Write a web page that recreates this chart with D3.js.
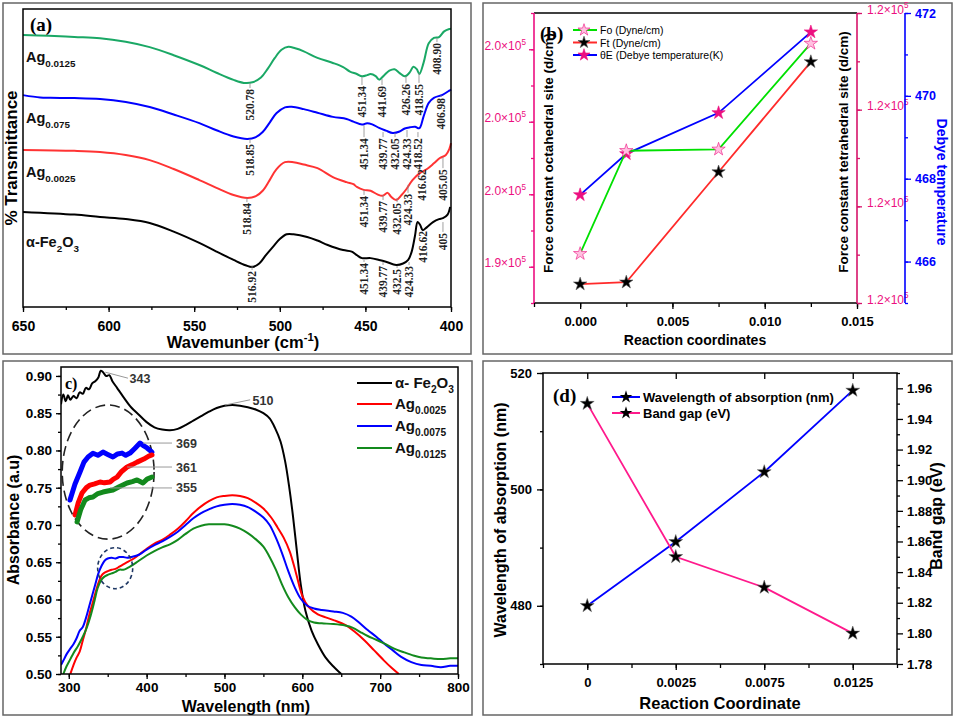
<!DOCTYPE html>
<html>
<head>
<meta charset="utf-8">
<script src="https://d3js.org/d3.v7.min.js"></script>
<style>
  body { margin: 0; background: #fff; }
  svg text { font-family: "Liberation Sans", Arial, sans-serif; }
</style>
</head>
<body>
<svg id="fig" width="955" height="718"></svg>
<script>
// ---------- data: panel (a) FTIR, [wavenumber, %T] ----------
const ftirAg0125 = [[650,91.3],[635,91],[620,90.6],[605,90.2],[590,89],[576,87.2],[562,84.5],[547,81.2],[537,78.6],[527,76.2],[521,75.2],[516,75.4],[511,77],[507,80],[503,83.5],[499,86.3],[495,87.3],[491,86.8],[486,85.8],[478,83.6],[469,81.9],[463,80.5],[459,79],[455,78.2],[452,77.4],[449,77.8],[447,78.2],[444,77.5],[442,76.3],[439,77.8],[436,79.3],[433,79.8],[430,78.5],[427,77.4],[424,78.8],[422,80.6],[420,79.8],[418.5,78.2],[416,82],[413,88.5],[410,90.3],[407,90.6],[404,92.5],[401,93.3],[400,93.4]];
const ftirAg075 = [[650,71.1],[640,70.3],[634,70.2],[620,70.1],[605,69.8],[590,68.8],[576,67.1],[562,64.6],[547,61.7],[537,59.3],[527,57.2],[519,56.4],[514,57],[510,58.7],[506,61.8],[502,65],[497,67],[493,67.2],[486,66.4],[478,65.2],[469,63.8],[461,63.1],[457,62.2],[452,61.2],[449,61.7],[446,61.3],[442,60.1],[438,59.2],[434,58.4],[430,58.9],[427,59.9],[424,60.3],[421,60.5],[418.5,60],[416,64],[413,68.5],[410,70.2],[405,71.2],[401,72.6],[400,73]];
const ftirAg0025 = [[650,52.7],[620,52.4],[605,52],[590,51],[576,49.3],[562,46.3],[547,42.6],[537,40],[527,37.6],[519,36.6],[514,37.2],[510,39],[506,42.5],[502,46.2],[497,48.6],[492,48.6],[486,47.8],[478,46.6],[469,43.6],[461,41.9],[457,41.2],[455,40.3],[451,39.3],[447,39],[443,37.8],[440,37.3],[437,38.3],[435,37],[432,35.9],[429,37.5],[426,39.6],[422.5,42.6],[418,45],[414,46.3],[410,48.2],[406.5,50],[403,51],[401,53],[400,55]];
const ftirFe2O3 = [[650,31.9],[620,31],[605,30.2],[590,29.5],[576,28.2],[562,25.3],[547,21.5],[537,18.6],[527,15.8],[520,14],[516,13.4],[512,14.6],[508,17.5],[504,20.2],[500,22.8],[496,24.4],[492,24.4],[484,23.5],[478,22.3],[472,20.8],[463,19.1],[458,18.6],[455,17.4],[452,16.4],[447,16.4],[442,15.8],[438,15.2],[432,14.1],[428,14.6],[425,15.8],[423,18.5],[421,24],[419.5,28.5],[418,27.5],[416.5,25.8],[414,26.8],[410.5,28.5],[407,29.5],[404.7,29.8],[402,31],[400.5,33.6]];
const ftirNames = ["Ag0.0125", "Ag0.075", "Ag0.0025", "α-Fe2O3"];
// peak labels: [text, wavenumber, text-top %T, curve %T]
const peaksAg0125 = [["520.78",517.4,73.5,75.2],["451.34",452,74.5,77.2],["441.69",440.3,74.5,76.5],["426.26",426.3,75.2,77.5],["418.55",418.7,75.2,78.5],["408.90",408.2,88.9,90.3]];
const peaksAg075 = [["518.85",517.4,55,56.4],["451.34",450.8,57,61],["439.77",439.7,57,58.7],["432.05",432.7,57,58.4],["424.33",425.7,57,59.4],["418.52",419.3,57,58.7],["406.98",405.8,70.5,71.1]];
const peaksAg0025 = [["518.84",519.2,35.2,36.6],["451.34",450.8,37.6,39.3],["439.77",439.7,35.9,37.6],["432.05",431.5,35.2,36.6],["424.33",425.1,38.3,41],["416.62",417,46.6,46.6],["405.05",404.7,46.6,50.3]];
const peaksFe2O3 = [["516.92",516.2,12.4,14.1],["451.34",450.8,15.1,15.8],["439.77",439.7,14.1,15.1],["432.5",431.5,13.1,13.8],["424.33",424.5,14.1,15.1],["416.62",416.4,25.8,25.8],["405",404.7,25.2,28.5]];
const ftirTicks = [650, 600, 550, 500, 450, 400];

// ---------- data: panel (b) force constants ----------
const coordB = [0, 0.0025, 0.0075, 0.0125];
const forceFo = [1.909, 1.980, 1.981, 2.054];       // x10^5, left axis
const forceFt = [1.1739, 1.1743, 1.1971, 1.2199];   // x10^5, right axis
const debyeT = [467.61, 468.60, 469.59, 471.54];    // K
const bXTicks = [0, 0.005, 0.010, 0.015];
const bLeftTicks = [1.90, 1.95, 2.00, 2.05];
const bLeftLabels = ["1.9", "2.0", "2.0", "2.0"];
const bRightTicks = [1.17, 1.19, 1.21, 1.23];
const bRightLabels = ["1.2", "1.2", "1.2", "1.2"];
const bDebyeTicks = [466, 468, 470, 472];

// ---------- data: panel (c) UV-vis absorbance, [nm, abs] ----------
const uvFe2O3 = [[290,0.862],[293,0.875],[296,0.866],[299,0.874],[302,0.868],[306,0.873],[310,0.870],[314,0.878],[318,0.876],[322,0.884],[326,0.882],[330,0.890],[334,0.893],[338,0.898],[341,0.907],[344,0.905],[348,0.900],[352,0.901],[356,0.893],[362,0.884],[370,0.872],[380,0.858],[390,0.848],[400,0.838],[410,0.831],[420,0.828],[430,0.827],[440,0.829],[450,0.834],[460,0.840],[470,0.846],[480,0.852],[490,0.857],[500,0.860],[510,0.861],[520,0.860],[530,0.858],[540,0.855],[550,0.850],[558,0.843],[565,0.830],[572,0.812],[578,0.785],[583,0.752],[588,0.712],[593,0.665],[598,0.620],[604,0.585],[612,0.558],[620,0.540],[630,0.522],[640,0.510],[650,0.500]];
const uvAg0025 = [[302,0.500],[306,0.512],[310,0.522],[314,0.530],[318,0.545],[322,0.560],[326,0.578],[330,0.593],[334,0.608],[338,0.622],[342,0.632],[346,0.636],[350,0.638],[355,0.640],[360,0.641],[365,0.644],[370,0.647],[375,0.650],[380,0.653],[385,0.656],[390,0.660],[395,0.664],[400,0.668],[410,0.675],[420,0.680],[430,0.687],[440,0.695],[450,0.705],[460,0.716],[470,0.725],[480,0.732],[490,0.737],[500,0.739],[510,0.740],[520,0.739],[530,0.736],[540,0.730],[550,0.722],[560,0.710],[568,0.697],[576,0.683],[584,0.664],[592,0.635],[600,0.605],[608,0.590],[620,0.580],[630,0.576],[641,0.572],[655,0.566],[667,0.557],[680,0.545],[692,0.532],[705,0.518],[715,0.508],[724,0.500]];
const uvAg0075 = [[290,0.512],[294,0.520],[298,0.528],[302,0.534],[306,0.540],[310,0.548],[314,0.558],[318,0.563],[322,0.575],[326,0.590],[330,0.605],[334,0.620],[338,0.635],[342,0.645],[346,0.652],[350,0.655],[355,0.656],[360,0.655],[365,0.657],[370,0.657],[375,0.656],[380,0.657],[390,0.660],[400,0.667],[410,0.673],[420,0.678],[430,0.684],[440,0.691],[450,0.700],[460,0.709],[470,0.716],[480,0.721],[490,0.725],[500,0.727],[510,0.728],[520,0.727],[530,0.724],[540,0.718],[550,0.710],[558,0.700],[566,0.683],[574,0.662],[582,0.638],[590,0.617],[598,0.601],[606,0.592],[615,0.588],[625,0.586],[640,0.584],[652,0.582],[663,0.577],[674,0.568],[684,0.559],[695,0.550],[705,0.541],[716,0.532],[727,0.523],[740,0.516],[753,0.512],[765,0.511],[778,0.509],[790,0.511],[800,0.511]];
const uvAg0125 = [[293,0.500],[297,0.510],[302,0.520],[306,0.528],[312,0.538],[318,0.550],[323,0.562],[328,0.578],[333,0.598],[337,0.615],[341,0.625],[345,0.630],[350,0.633],[355,0.635],[360,0.637],[365,0.640],[370,0.640],[375,0.642],[380,0.645],[390,0.652],[400,0.659],[410,0.665],[420,0.670],[430,0.674],[440,0.680],[450,0.688],[460,0.695],[470,0.699],[480,0.701],[490,0.701],[500,0.701],[510,0.699],[520,0.695],[530,0.689],[540,0.681],[550,0.671],[558,0.657],[566,0.640],[574,0.620],[582,0.603],[590,0.590],[598,0.580],[606,0.573],[615,0.569],[625,0.568],[640,0.567],[655,0.565],[665,0.562],[675,0.556],[684,0.551],[695,0.546],[705,0.541],[718,0.534],[731,0.529],[742,0.525],[753,0.522],[765,0.521],[778,0.520],[790,0.521],[800,0.521]];
// magnified inset (zoom of 335-385 nm)
const insetAg0075 = [[335,0.6297],[338,0.6390],[341.1,0.6462],[343.5,0.6520],[346,0.6550],[349,0.6572],[352,0.6560],[355.1,0.6579],[358,0.6565],[361.2,0.6550],[364,0.6568],[366.7,0.6573],[369,0.6560],[371.6,0.6573],[374.5,0.6600],[377.7,0.6632],[380,0.6615],[382,0.6603],[385,0.6579]];
const insetAg0025 = [[338.1,0.6209],[340,0.6280],[342.3,0.6338],[345,0.6370],[347.2,0.6385],[350,0.6392],[353.3,0.6403],[356,0.6398],[359.4,0.6403],[361.5,0.6420],[363.7,0.6432],[366.5,0.6465],[369.8,0.6491],[373,0.6505],[375.9,0.6520],[380,0.6538],[383,0.6555],[385,0.6562]];
const insetAg0125 = [[339.3,0.6168],[341.5,0.6240],[344.2,0.6297],[346.5,0.6310],[349,0.6315],[352,0.6335],[355.1,0.6344],[358,0.6350],[361.2,0.6356],[365,0.6375],[369.8,0.6397],[373,0.6405],[375.9,0.6415],[379.5,0.6397],[382,0.6420],[385,0.6432]];
const insetLabels = [["369",379.5,0.6632],["361",369.8,0.6491],["355",359.4,0.6368]];
const uvNames = ["α- Fe2O3", "Ag0.0025", "Ag0.0075", "Ag0.0125"];
const uvXTicks = [300, 400, 500, 600, 700, 800];
const uvYTicks = [0.50, 0.55, 0.60, 0.65, 0.70, 0.75, 0.80, 0.85, 0.90];

// ---------- data: panel (d) ----------
const coordD = ["0", "0.0025", "0.0075", "0.0125"];
const absWavelength = [480, 491, 503, 517];
const bandGap = [1.95, 1.85, 1.83, 1.80];
const dLeftTicks = [480, 500, 520];
const dRightTicks = [1.78, 1.80, 1.82, 1.84, 1.86, 1.88, 1.90, 1.92, 1.94, 1.96];

// ---------- helpers ----------
const svg = d3.select("#fig");
const SANS = "'Liberation Sans', Arial, sans-serif";
const SERIF = "'Liberation Serif', 'Times New Roman', serif";
const PINK = "#ec0f80";
const star = s => d3.symbol(d3.symbolStar).size(s)();

// text with sub/superscripts, parts: [string, 0 normal | 1 sub | 2 sup]
function rich(sel, parts, size) {
  let shift = 0;
  parts.forEach(([s, k]) => {
    const target = k === 1 ? size * 0.32 : k === 2 ? -size * 0.42 : 0;
    sel.append("tspan").attr("dy", target - shift)
      .style("font-size", (k ? size * 0.68 : size) + "px").text(s);
    shift = target;
  });
}
// "Ag0.0125" -> Ag + sub, "α-Fe2O3" -> with sub digits
function nameParts(n) {
  if (n.startsWith("Ag")) return [["Ag", 0], [n.slice(2), 1]];
  const pre = n.replace("Fe2O3", "");
  return [[pre + "Fe", 0], ["2", 1], ["O", 0], ["3", 1]];
}
function styleAxis(g, color, size, weight) {
  g.select(".domain").remove();
  g.selectAll(".tick line").attr("stroke", color).attr("stroke-width", 1.3);
  g.selectAll(".tick text").attr("fill", color).style("font-size", size + "px")
    .style("font-weight", weight).style("font-family", SANS);
}
function range(a, b, s) { const r = []; for (let v = a; v <= b + s * 1e-6; v += s) r.push(+v.toFixed(6)); return r; }

// outer panel borders
[[3, 3, 468, 351], [483, 3, 469, 351], [3, 361, 469, 354], [483, 361, 469, 354]].forEach(b =>
  svg.append("rect").attr("x", b[0]).attr("y", b[1]).attr("width", b[2]).attr("height", b[3])
    .attr("fill", "none").attr("stroke", "#666").attr("stroke-width", 1.5));

// ================= panel (a) =================
{
  const g = svg.append("g");
  const x = d3.scaleLinear().domain([650, 400]).range([23, 451]);
  const y = d3.scaleLinear().domain([0, 100]).range([307, 9]);
  const colors = ["#1aa865", "#0000ff", "#ff3333", "#000000"];
  const series = [ftirAg0125, ftirAg075, ftirAg0025, ftirFe2O3];
  const peaks = [peaksAg0125, peaksAg075, peaksAg0025, peaksFe2O3];
  const line = d3.line().x(d => x(d[0])).y(d => y(d[1])).curve(d3.curveCatmullRom);

  g.append("g").attr("transform", "translate(0,307)")
    .call(d3.axisBottom(x).tickValues(range(400, 650, 25)).tickSize(3).tickFormat(""))
    .call(a => styleAxis(a, "#000", 14, "bold"));
  g.append("g").attr("transform", "translate(0,307)")
    .call(d3.axisBottom(x).tickValues(ftirTicks).tickSize(5).tickPadding(9).tickFormat(d3.format("d")))
    .call(a => styleAxis(a, "#000", 14, "bold"));

  series.forEach((s, i) => g.append("path").datum(s).attr("d", line)
    .attr("fill", "none").attr("stroke", colors[i]).attr("stroke-width", 2));

  peaks.forEach(list => list.forEach(p => {
    g.append("line").attr("x1", x(p[1])).attr("x2", x(p[1]))
      .attr("y1", y(p[3])).attr("y2", y(p[2])).attr("stroke", "#888").attr("stroke-width", 0.8);
    g.append("text").attr("transform", `translate(${x(p[1])},${y(p[2]) + 1}) rotate(-90)`)
      .attr("text-anchor", "end").attr("dominant-baseline", "central")
      .style("font-family", SERIF).style("font-weight", "bold").style("font-size", "11.5px")
      .attr("fill", "#222").text(p[0]);
  }));

  g.append("rect").attr("x", 23).attr("y", 9).attr("width", 428).attr("height", 298)
    .attr("fill", "none").attr("stroke", "#000").attr("stroke-width", 1.5);

  [62, 123, 177, 247].forEach((yy, i) => {
    const t = g.append("text").attr("x", 26).attr("y", yy).style("font-weight", "bold").attr("fill", "#111");
    rich(t, nameParts(ftirNames[i]), 14.5);
  });
  g.append("text").attr("x", 30).attr("y", 31).style("font-family", SERIF).style("font-weight", "bold")
    .style("font-size", "19px").text("(a)");
  g.append("text").attr("transform", "translate(17,158) rotate(-90)").attr("text-anchor", "middle")
    .style("font-weight", "bold").style("font-size", "17px").text("% Transmittance");
  const xt = g.append("text").attr("x", 243).attr("y", 348).attr("text-anchor", "middle")
    .style("font-weight", "bold");
  rich(xt, [["Wavemunber (cm", 0], ["-1", 2], [")", 0]], 16.5);
}

// ================= panel (b) =================
{
  const g = svg.append("g");
  const x = d3.scaleLinear().domain([-0.0025, 0.015]).range([534, 857]);
  const yL = d3.scaleLinear().domain([1.875, 2.075]).range([303, 13]);
  const yR = d3.scaleLinear().domain([1.17, 1.23]).range([303, 13]);
  const yB = d3.scaleLinear().domain([465, 472]).range([303, 13]);

  // x axis
  g.append("g").attr("transform", "translate(0,303)")
    .call(d3.axisBottom(x).tickValues(range(-0.0025, 0.015, 0.0025)).tickSize(4).tickFormat(""))
    .call(a => styleAxis(a, "#000", 13, "bold"));
  g.append("g").attr("transform", "translate(0,303)")
    .call(d3.axisBottom(x).tickValues(bXTicks).tickSize(6).tickPadding(8).tickFormat(d3.format(".3f")))
    .call(a => styleAxis(a, "#000", 13, "bold"));
  g.append("line").attr("x1", 534).attr("x2", 857).attr("y1", 303).attr("y2", 303).attr("stroke", "#000").attr("stroke-width", 1.5);
  g.append("line").attr("x1", 534).attr("x2", 857).attr("y1", 13).attr("y2", 13).attr("stroke", "#000").attr("stroke-width", 1.5);

  const sci = (labels) => function (d, i) {
    const t = d3.select(this); t.text(null);
    rich(t, [[labels[i] + "×10", 0], ["5", 2]], 12);
  };
  // left axis
  g.append("g").attr("transform", "translate(534,0)")
    .call(d3.axisLeft(yL).tickValues(range(1.875, 2.075, 0.025)).tickSize(3).tickFormat(""))
    .call(a => styleAxis(a, PINK, 12, "normal"));
  g.append("g").attr("transform", "translate(534,0)")
    .call(d3.axisLeft(yL).tickValues(bLeftTicks).tickSize(5).tickPadding(3))
    .call(a => styleAxis(a, PINK, 12, "normal"))
    .call(a => a.selectAll(".tick text").each(sci(bLeftLabels)));
  g.append("line").attr("x1", 534).attr("x2", 534).attr("y1", 13).attr("y2", 303).attr("stroke", PINK).attr("stroke-width", 1.6);
  // right axis (pink)
  g.append("g").attr("transform", "translate(857,0)")
    .call(d3.axisRight(yR).tickValues(range(1.17, 1.23, 0.01)).tickSize(3).tickFormat(""))
    .call(a => styleAxis(a, "#d6136a", 12, "normal"));
  g.append("g").attr("transform", "translate(857,0)")
    .call(d3.axisRight(yR).tickValues(bRightTicks).tickSize(5).tickPadding(5))
    .call(a => styleAxis(a, PINK, 12, "normal"))
    .call(a => a.selectAll(".tick line").attr("stroke", "#d6136a"))
    .call(a => a.selectAll(".tick text").each(sci(bRightLabels)));
  g.append("line").attr("x1", 857).attr("x2", 857).attr("y1", 13).attr("y2", 303).attr("stroke", "#d6136a").attr("stroke-width", 1.6);
  // right axis (blue)
  g.append("g").attr("transform", "translate(905,0)")
    .call(d3.axisRight(yB).tickValues(range(465, 472, 1)).tickSize(3).tickFormat(""))
    .call(a => styleAxis(a, "#0000ff", 12, "bold"));
  g.append("g").attr("transform", "translate(905,0)")
    .call(d3.axisRight(yB).tickValues(bDebyeTicks).tickSize(6).tickPadding(4).tickFormat(d3.format("d")))
    .call(a => styleAxis(a, "#0000ff", 12.5, "bold"));
  g.append("line").attr("x1", 905).attr("x2", 905).attr("y1", 13).attr("y2", 303).attr("stroke", "#0000ff").attr("stroke-width", 1.6);

  const mk = (ys, yScale) => coordB.map((c, i) => [x(c), yScale(ys[i])]);
  const lines = [
    { pts: mk(debyeT, yB), color: "#0000ff", fill: PINK, stroke: PINK },
    { pts: mk(forceFo, yL), color: "#00e000", fill: "#ffc0e0", stroke: PINK },
    { pts: mk(forceFt, yR), color: "#ff2a2a", fill: "#000", stroke: "#555" }
  ];
  lines.forEach(l => {
    g.append("path").attr("d", d3.line()(l.pts)).attr("fill", "none").attr("stroke", l.color).attr("stroke-width", 1.8);
    l.pts.forEach(p => g.append("path").attr("d", star(55)).attr("transform", `translate(${p[0]},${p[1]})`)
      .attr("fill", l.fill).attr("stroke", l.stroke).attr("stroke-width", 0.6));
  });

  // legend
  const leg = [["Fo (Dyne/cm)", "#00e000", "#ffc0e0", PINK], ["Ft (Dyne/cm)", "#ff2a2a", "#000", "#555"], ["θE (Debye temperature(K)", "#0000ff", PINK, PINK]];
  leg.forEach((l, i) => {
    const yy = 30 + i * 12.5;
    g.append("line").attr("x1", 573).attr("x2", 597).attr("y1", yy).attr("y2", yy).attr("stroke", l[1]).attr("stroke-width", 2);
    g.append("path").attr("d", star(45)).attr("transform", `translate(584,${yy})`).attr("fill", l[2]).attr("stroke", l[3]).attr("stroke-width", 0.6);
    g.append("text").attr("x", 600).attr("y", yy + 4).style("font-size", "10.5px").text(l[0]);
  });
  g.append("text").attr("x", 540).attr("y", 40).style("font-family", SERIF).style("font-weight", "bold").style("font-size", "19px").text("(b)");

  g.append("text").attr("transform", "translate(553,153) rotate(-90)").attr("text-anchor", "middle")
    .style("font-weight", "bold").style("font-size", "13.5px").text("Force constant octahedral site (d/cm)");
  g.append("text").attr("transform", "translate(848,152) rotate(-90)").attr("text-anchor", "middle")
    .style("font-weight", "bold").style("font-size", "13.5px").text("Force constant tetrahedral site (d/cm)");
  g.append("text").attr("transform", "translate(937,182) rotate(90)").attr("text-anchor", "middle")
    .style("font-weight", "bold").style("font-size", "14px").attr("fill", "#0000ff").text("Debye temperature");
  g.append("text").attr("x", 695).attr("y", 345).attr("text-anchor", "middle")
    .style("font-weight", "bold").style("font-size", "14px").text("Reaction coordinates");
}

// ================= panel (c) =================
{
  const g = svg.append("g");
  const x = d3.scaleLinear().domain([290, 800]).range([61, 458]);
  const y = d3.scaleLinear().domain([0.5, 0.912]).range([674, 367]);
  const ix = d3.scaleLinear().domain([335, 385]).range([70, 152]);
  const iy = d3.scaleLinear().domain([0.615, 0.665]).range([525, 440]);
  const colors = ["#000000", "#ff0000", "#0000ff", "#138a1d"];
  const series = [uvFe2O3, uvAg0025, uvAg0075, uvAg0125];

  g.append("defs").append("clipPath").attr("id", "clipC").append("rect")
    .attr("x", 61).attr("y", 367).attr("width", 397).attr("height", 307);

  g.append("g").attr("transform", "translate(0,674)")
    .call(d3.axisBottom(x).tickValues(range(300, 800, 50)).tickSize(3).tickFormat(""))
    .call(a => styleAxis(a, "#000", 13, "bold"));
  g.append("g").attr("transform", "translate(0,674)")
    .call(d3.axisBottom(x).tickValues(uvXTicks).tickSize(5).tickPadding(3).tickFormat(d3.format("d")))
    .call(a => styleAxis(a, "#000", 13.5, "bold"));
  g.append("g").attr("transform", "translate(61,0)")
    .call(d3.axisLeft(y).tickValues(range(0.5, 0.9, 0.025)).tickSize(3).tickFormat(""))
    .call(a => styleAxis(a, "#000", 13, "bold"));
  g.append("g").attr("transform", "translate(61,0)")
    .call(d3.axisLeft(y).tickValues(uvYTicks).tickSize(5).tickPadding(4).tickFormat(d3.format(".2f")))
    .call(a => styleAxis(a, "#000", 13.5, "bold"));

  const line = d3.line().x(d => x(d[0])).y(d => y(d[1])).curve(d3.curveCatmullRom);
  series.forEach((s, i) => g.append("path").datum(s).attr("d", line).attr("clip-path", "url(#clipC)")
    .attr("fill", "none").attr("stroke", colors[i]).attr("stroke-width", 2));

  // dashed highlight circles
  g.append("ellipse").attr("cx", x(350.6)).attr("cy", y(0.771))
    .attr("rx", x(350.6 + 59) - x(350.6)).attr("ry", y(0.771) - y(0.771 + 0.09))
    .attr("fill", "none").attr("stroke", "#222").attr("stroke-width", 1.6).attr("stroke-dasharray", "10,5");
  g.append("ellipse").attr("cx", x(359.6)).attr("cy", y(0.642))
    .attr("rx", x(359.6 + 22.5) - x(359.6)).attr("ry", y(0.642) - y(0.642 + 0.0275))
    .attr("fill", "none").attr("stroke", "#1f3864").attr("stroke-width", 1.6).attr("stroke-dasharray", "4,3");

  // inset magnified curves
  const iline = d3.line().x(d => ix(d[0])).y(d => iy(d[1])).curve(d3.curveLinear);
  [[insetAg0075, "#0000ff"], [insetAg0025, "#ff0000"], [insetAg0125, "#138a1d"]].forEach(s =>
    g.append("path").datum(s[0]).attr("d", iline).attr("fill", "none").attr("stroke", s[1])
      .attr("stroke-width", 5).attr("stroke-linejoin", "round").attr("stroke-linecap", "round"));
  insetLabels.forEach(l => {
    g.append("line").attr("x1", ix(l[1])).attr("x2", 172).attr("y1", iy(l[2])).attr("y2", iy(l[2]))
      .attr("stroke", "#999").attr("stroke-width", 1);
    g.append("text").attr("x", 176).attr("y", iy(l[2]) + 4.5).style("font-weight", "bold")
      .style("font-size", "12.5px").attr("fill", "#333").text(l[0]);
  });
  // peak callouts on the alpha-Fe2O3 curve
  g.append("line").attr("x1", x(347)).attr("y1", y(0.905)).attr("x2", x(376)).attr("y2", y(0.897)).attr("stroke", "#999");
  g.append("text").attr("x", x(378)).attr("y", y(0.897) + 5).style("font-weight", "bold").style("font-size", "12.5px").attr("fill", "#333").text("343");
  g.append("line").attr("x1", x(501)).attr("y1", y(0.861)).attr("x2", x(533)).attr("y2", y(0.868)).attr("stroke", "#999");
  g.append("text").attr("x", x(536)).attr("y", y(0.868) + 5).style("font-weight", "bold").style("font-size", "12.5px").attr("fill", "#333").text("510");

  g.append("rect").attr("x", 61).attr("y", 367).attr("width", 397).attr("height", 307)
    .attr("fill", "none").attr("stroke", "#000").attr("stroke-width", 1.5);

  // legend
  [383, 404, 426, 448].forEach((yy, i) => {
    g.append("line").attr("x1", 357).attr("x2", 392).attr("y1", yy).attr("y2", yy).attr("stroke", colors[i]).attr("stroke-width", 2);
    const t = g.append("text").attr("x", 395).attr("y", yy + 5).style("font-weight", "bold").attr("fill", "#111");
    rich(t, nameParts(uvNames[i]), 15);
  });
  g.append("text").attr("x", 65).attr("y", 389).style("font-family", SERIF).style("font-weight", "bold").style("font-size", "16px").text("c)");
  g.append("text").attr("transform", "translate(19,520) rotate(-90)").attr("text-anchor", "middle")
    .style("font-weight", "bold").style("font-size", "16px").text("Absorbance (a.u)");
  g.append("text").attr("x", 246).attr("y", 712).attr("text-anchor", "middle")
    .style("font-weight", "bold").style("font-size", "16px").text("Wavelength (nm)");
}

// ================= panel (d) =================
{
  const g = svg.append("g");
  const x = d3.scaleLinear().domain([-0.5, 3.5]).range([543, 897]);
  const yL = d3.scaleLinear().domain([470, 520]).range([664, 373]);
  const yR = d3.scaleLinear().domain([1.78, 1.97]).range([664, 373]);
  const idx = coordD.map((c, i) => i);

  g.append("g").attr("transform", "translate(0,664)")
    .call(d3.axisBottom(x).tickValues(range(-0.5, 3.5, 0.5)).tickSize(4).tickFormat(""))
    .call(a => styleAxis(a, "#000", 13, "bold"));
  g.append("g").attr("transform", "translate(0,664)")
    .call(d3.axisBottom(x).tickValues(idx).tickSize(6).tickPadding(8).tickFormat(i => coordD[i]))
    .call(a => styleAxis(a, "#000", 13, "bold"));
  g.append("g").attr("transform", "translate(0,373)")
    .call(d3.axisTop(x).tickValues(idx).tickSize(-6).tickFormat(""))
    .call(a => styleAxis(a, "#000", 13, "bold"));
  g.append("g").attr("transform", "translate(543,0)")
    .call(d3.axisLeft(yL).tickValues(range(470, 520, 10)).tickSize(3).tickFormat(""))
    .call(a => styleAxis(a, "#000", 13, "bold"));
  g.append("g").attr("transform", "translate(543,0)")
    .call(d3.axisLeft(yL).tickValues(dLeftTicks).tickSize(6).tickPadding(5).tickFormat(d3.format("d")))
    .call(a => styleAxis(a, "#000", 13, "bold"));
  g.append("g").attr("transform", "translate(897,0)")
    .call(d3.axisRight(yR).tickValues(range(1.79, 1.97, 0.02)).tickSize(3).tickFormat(""))
    .call(a => styleAxis(a, "#000", 13, "bold"));
  g.append("g").attr("transform", "translate(897,0)")
    .call(d3.axisRight(yR).tickValues(dRightTicks).tickSize(6).tickPadding(4).tickFormat(d3.format(".2f")))
    .call(a => styleAxis(a, "#000", 13, "bold"));

  const s1 = idx.map(i => [x(i), yL(absWavelength[i])]);
  const s2 = idx.map(i => [x(i), yR(bandGap[i])]);
  [[s1, "#0000ff"], [s2, "#ff1a8c"]].forEach(s => {
    g.append("path").attr("d", d3.line()(s[0])).attr("fill", "none").attr("stroke", s[1]).attr("stroke-width", 1.8);
    s[0].forEach(p => g.append("path").attr("d", star(60)).attr("transform", `translate(${p[0]},${p[1]})`)
      .attr("fill", "#000").attr("stroke", "#666").attr("stroke-width", 0.5));
  });

  g.append("rect").attr("x", 543).attr("y", 373).attr("width", 354).attr("height", 291)
    .attr("fill", "none").attr("stroke", "#000").attr("stroke-width", 1.5);

  [["Wavelength of absorption (nm)", "#0000ff"], ["Band gap (eV)", "#ff1a8c"]].forEach((l, i) => {
    const yy = 397 + i * 16;
    g.append("line").attr("x1", 612).attr("x2", 640).attr("y1", yy).attr("y2", yy).attr("stroke", l[1]).attr("stroke-width", 2);
    g.append("path").attr("d", star(50)).attr("transform", `translate(626,${yy})`).attr("fill", "#000");
    g.append("text").attr("x", 643).attr("y", yy + 5).style("font-weight", "bold").style("font-size", "13px").text(l[0]);
  });
  g.append("text").attr("x", 553).attr("y", 402).style("font-family", SERIF).style("font-weight", "bold").style("font-size", "19px").text("(d)");
  g.append("text").attr("transform", "translate(506,520) rotate(-90)").attr("text-anchor", "middle")
    .style("font-weight", "bold").style("font-size", "16px").text("Wavelength of absorption (nm)");
  g.append("text").attr("transform", "translate(942,516) rotate(-90)").attr("text-anchor", "middle")
    .style("font-weight", "bold").style("font-size", "16px").text("Band gap (eV)");
  g.append("text").attr("x", 720).attr("y", 709).attr("text-anchor", "middle")
    .style("font-weight", "bold").style("font-size", "16.5px").text("Reaction Coordinate");
}
</script>
</body>
</html>
